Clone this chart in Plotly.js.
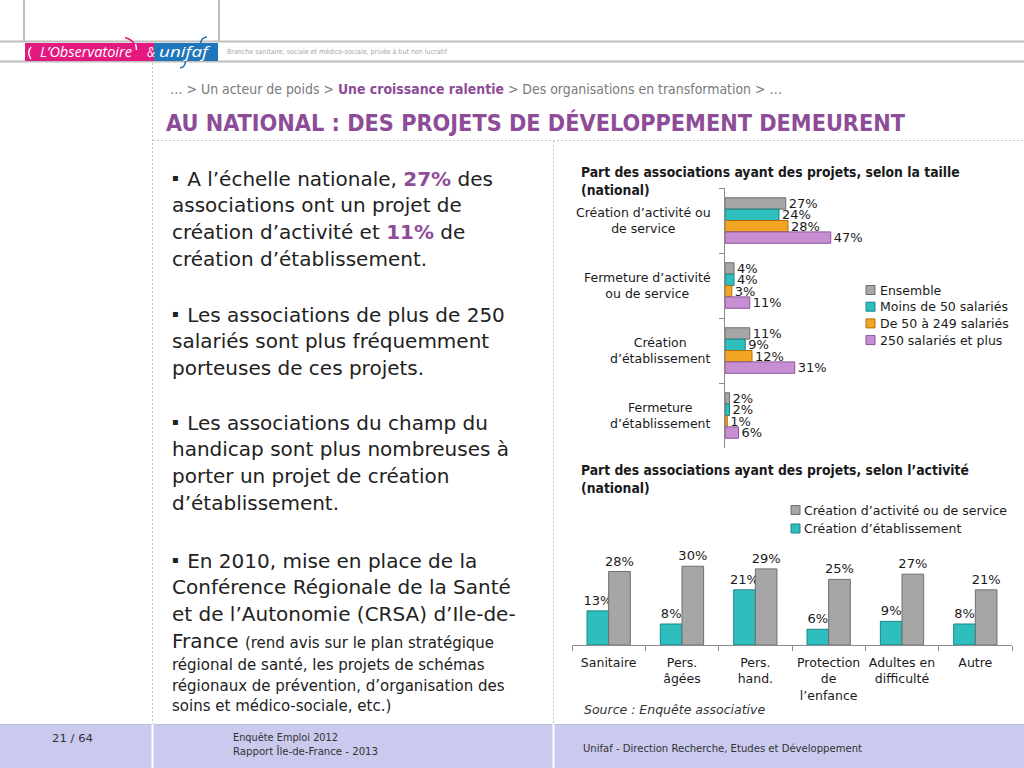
<!DOCTYPE html>
<html>
<head>
<meta charset="utf-8">
<script src="https://cdn.plot.ly/plotly-3.0.1.min.js"></script>
<style>
  html, body { margin:0; padding:0; background:#fff; }
  #slide { position:relative; width:1024px; height:768px; overflow:hidden; background:#fff; }
  .t { position:absolute; white-space:nowrap; display:inline-block; transform-origin:0 0; }
  .p { color:#8E4C98; font-weight:bold; }
  .b { font-size:10px; vertical-align:4.5px; margin-right:2px; }
  .chart { position:absolute; }
</style>
</head>
<body>
<div id="slide">
  <svg width="1024" height="768" style="position:absolute;left:0;top:0">
    <!-- header frame -->
    <line x1="0" y1="41.5" x2="1024" y2="41.5" stroke="#bdbdbd" stroke-width="2"/>
    <line x1="0" y1="61.5" x2="1024" y2="61.5" stroke="#bdbdbd" stroke-width="2"/>
    <line x1="24" y1="0" x2="24" y2="41" stroke="#bdbdbd" stroke-width="2"/>
    <line x1="219" y1="0" x2="219" y2="41" stroke="#bdbdbd" stroke-width="2"/>
    <rect x="25" y="43" width="129" height="18" fill="#E3197F"/>
    <rect x="154" y="43" width="64" height="18" fill="#1F76BA"/>
    <path d="M31,47 Q26.5,53 31,59" stroke="#fff" stroke-width="1.4" fill="none"/>
    <path d="M125,37.5 Q135,40 136.5,50" stroke="#E3197F" stroke-width="1.6" fill="none"/>
    <path d="M135.5,44 Q136.5,47 136.5,50" stroke="#fff" stroke-width="1.4" fill="none"/>
    <path d="M207,37 Q201,37.5 200.5,44" stroke="#1F76BA" stroke-width="1.6" fill="none"/>
    <path d="M185.5,61 Q185,67.5 180,68" stroke="#1F76BA" stroke-width="1.6" fill="none"/>
    <!-- dashed frames -->
    <line x1="152.5" y1="63" x2="152.5" y2="724" stroke="#c4c4c4" stroke-width="1" stroke-dasharray="2,2"/>
    <line x1="553.5" y1="141" x2="553.5" y2="724" stroke="#c4c4c4" stroke-width="1" stroke-dasharray="2,2"/>
    <line x1="153" y1="140.5" x2="1024" y2="140.5" stroke="#c4c4c4" stroke-width="1" stroke-dasharray="2,2"/>
    <!-- footer -->
    <rect x="0" y="724" width="1024" height="44" fill="#CAC9EE"/>
    <line x1="0" y1="724.5" x2="1024" y2="724.5" stroke="#BDBCE6" stroke-width="1"/>
    <line x1="152.5" y1="724" x2="152.5" y2="768" stroke="#fff" stroke-width="2"/>
    <line x1="553.5" y1="724" x2="553.5" y2="768" stroke="#fff" stroke-width="2"/>
  </svg>
  <div id="texts"></div>
  <div id="chart1" class="chart" style="left:560px;top:155px;width:464px;height:300px;"></div>
  <div id="chart2" class="chart" style="left:560px;top:455px;width:464px;height:267px;"></div>
</div>

<script>
// ---------------- DATA ----------------
// Chart 1: share of associations with projects, by size (national)
const sizeCategories = [
  "Création d’activité ou<br>de service",
  "Fermeture d’activité<br>ou de service",
  "Création<br>d’établissement",
  "Fermeture<br>d’établissement"
];
const sizeSeriesNames = ["Ensemble", "Moins de 50 salariés", "De 50 à 249 salariés", "250 salariés et plus"];
const ensemble   = [27, 4, 11, 2];
const moins50    = [24, 4, 9, 2];
const de50a249   = [28, 3, 12, 1];
const plus250    = [47, 11, 31, 6];

// Chart 2: share of associations with projects, by activity (national)
const activityCategories = [
  "Sanitaire",
  "Pers.<br>âgées",
  "Pers.<br>hand.",
  "Protection<br>de<br>l’enfance",
  "Adultes en<br>difficulté",
  "Autre"
];
const activitySeriesNames = ["Création d’établissement", "Création d’activité ou de service"];
const creationEtablissement = [13, 8, 21, 6, 9, 8];
const creationActivite      = [28, 30, 29, 25, 27, 21];

// ---------------- SLIDE TEXT ----------------
const texts = document.getElementById('texts');
function T(html, x, baseline, size, style, fitW) {
  const d = document.createElement('div');
  d.className = 't';
  d.innerHTML = html;
  d.style.left = x + 'px';
  d.style.fontSize = size + 'px';
  d.style.lineHeight = size + 'px';
  d.style.top = (baseline - 0.846 * size) + 'px';
  d.style.cssText += style || '';
  if (fitW) d.dataset.w = fitW;
  texts.appendChild(d);
  return d;
}
const COND = "font-family:'DejaVu Sans Condensed','DejaVu Sans',sans-serif;";
const SANS = "font-family:'DejaVu Sans',sans-serif;";

// header logo texts
T("L’Observatoire", 40, 57, 14, "font-family:'Open Sans',sans-serif;font-style:italic;color:#fff;", 92);
T("&amp;", 147, 57, 14, "font-family:'Open Sans',sans-serif;font-style:italic;color:#fff;", 8);
T("unifaf", 159, 57, 15, "font-family:'Open Sans',sans-serif;font-style:italic;color:#fff;", 49);
T("Branche sanitaire, sociale et médico-sociale, privée à but non lucratif", 227, 54.5, 7, COND + "color:#a5a5a5;", 220);

// breadcrumb + title
T("…  &gt; Un acteur de poids &gt; <b style='color:#8E4C98'>Une croissance ralentie</b> &gt; Des organisations en transformation &gt; …",
  170, 94.5, 13.5, COND + "color:#7a7a7a;", 612);
T("AU NATIONAL : DES PROJETS DE DÉVELOPPEMENT DEMEURENT", 166, 131, 23, COND + "font-weight:bold;color:#8E4C98;", 739);

// left body text
const BODY = SANS + "color:#222;";
const BUL = "<span class='b'>▪</span> ";
const bodyLines = [
  [BUL + "A l’échelle nationale, <span class='p'>27%</span> des", 185],
  ["associations ont un projet de", 212],
  ["création d’activité et <span class='p'>11%</span> de", 239],
  ["création d’établissement.", 266],
  [BUL + "Les associations de plus de 250", 321],
  ["salariés sont plus fréquemment", 348],
  ["porteuses de ces projets.", 375],
  [BUL + "Les associations du champ du", 429],
  ["handicap sont plus nombreuses à", 456],
  ["porter un projet de création", 483],
  ["d’établissement.", 510],
  [BUL + "En 2010, mise en place de la", 567],
  ["Conférence Régionale de la Santé", 594],
  ["et de l’Autonomie (CRSA) d’Ile-de-", 621],
  ["France <span style='font-size:15px'>(rend avis sur le plan stratégique</span>", 648]
];
bodyLines.forEach(l => T(l[0], 172, l[1], 20, BODY));
const smallLines = [
  ["régional de santé, les projets de schémas", 671],
  ["régionaux de prévention, d’organisation des", 692],
  ["soins et médico-sociale, etc.)", 712]
];
smallLines.forEach(l => T(l[0], 172, l[1], 15, BODY));

// footer
const FOOT = COND + "color:#333;";
T("21 / 64", 52, 742, 11, FOOT, 41);
T("Enquête Emploi 2012", 233, 741.5, 11, FOOT, 105);
T("Rapport Île-de-France - 2013", 233, 755.5, 11, FOOT, 145);
T("Unifaf - Direction Recherche, Etudes et Développement", 583, 752, 11, FOOT, 279);

function fitAll() {
  document.querySelectorAll('[data-w]').forEach(el => {
    el.style.transform = '';
    const w = el.getBoundingClientRect().width;
    if (w > 0) el.style.transform = 'scaleX(' + (+el.dataset.w / w) + ')';
  });
}
fitAll();
if (document.fonts && document.fonts.ready) document.fonts.ready.then(fitAll);

// ---------------- CHARTS ----------------
const TXT = '#1a1a1a';
const FONT = "DejaVu Sans, sans-serif";
const TFONT = "DejaVu Sans Condensed, DejaVu Sans, sans-serif";

function makeConv(box) {
  return {
    x: X => (X - box.left) / box.w,
    y: Y => 1 - (Y - box.top) / box.h
  };
}
function titleAnns(conv, lines, yFirst) {
  return lines.map((s, i) => ({
    xref: 'paper', yref: 'paper', x: conv.x(579), y: conv.y(yFirst + i * 18),
    xanchor: 'left', yanchor: 'middle', showarrow: false,
    text: '<b>' + s + '</b>',
    font: {family: TFONT, size: 13.8, color: TXT}
  }));
}

// ---- Chart 1 ----
const box1 = {left:560, top:155, w:464, h:300};
const c1 = makeConv(box1);
const sizeValues = [ensemble, moins50, de50a249, plus250];
const sizeFill = ['#A6A6A6', '#2FBEBE', '#F2A623', '#C88ED3'];
const sizeEdge = ['#6E6E6E', '#1A8585', '#B06E08', '#8A5597'];

const traces1 = sizeValues.map((vals, i) => ({
  type: 'bar', orientation: 'h',
  x: vals, y: sizeCategories, name: sizeSeriesNames[i],
  marker: {color: sizeFill[i], line: {color: sizeEdge[i], width: 1}},
  texttemplate: '%{x}%', textposition: 'outside', constraintext: 'none',
  textfont: {family: FONT, size: 13, color: TXT},
  cliponaxis: false, hoverinfo: 'skip'
}));

const ann1 = titleAnns(c1, ['Part des associations ayant des projets, selon la taille', '(national)'], 172);
sizeCategories.forEach(c => ann1.push({
  xref: 'paper', x: c1.x(713), xanchor: 'right',
  yref: 'y', y: c, yanchor: 'middle',
  text: c, align: 'center', showarrow: false,
  font: {family: FONT, size: 12.5, color: TXT}
}));
const shapes1 = [];
sizeSeriesNames.forEach((n, i) => {
  const cy = 290 + i * 16.7;
  shapes1.push({type: 'rect', xref: 'paper', yref: 'paper',
    x0: c1.x(866), x1: c1.x(875), y0: c1.y(cy + 4.5), y1: c1.y(cy - 4.5),
    fillcolor: sizeFill[i], line: {color: sizeEdge[i], width: 1}});
  ann1.push({xref: 'paper', yref: 'paper', x: c1.x(877.5), y: c1.y(cy),
    xanchor: 'left', yanchor: 'middle', text: n, showarrow: false,
    font: {family: FONT, size: 12.5, color: TXT}});
});

const layout1 = {
  width: box1.w, height: box1.h,
  margin: {l: 0, r: 0, t: 0, b: 0},
  paper_bgcolor: 'rgba(0,0,0,0)', plot_bgcolor: 'rgba(0,0,0,0)',
  barmode: 'group', bargap: 0.3, bargroupgap: 0,
  showlegend: false,
  font: {family: FONT, size: 12.5, color: TXT},
  xaxis: {domain: [c1.x(725), c1.x(950)], range: [0, 100], visible: false, fixedrange: true},
  yaxis: {domain: [c1.y(448), c1.y(188)], type: 'category', autorange: 'reversed',
    showline: true, linecolor: '#8c8c8c', linewidth: 1,
    ticks: 'outside', tickson: 'boundaries', ticklen: 5, tickcolor: '#8c8c8c',
    showticklabels: false, showgrid: false, zeroline: false, fixedrange: true},
  annotations: ann1,
  shapes: shapes1
};
Plotly.newPlot('chart1', traces1, layout1, {staticPlot: true, displayModeBar: false});

// ---- Chart 2 ----
const box2 = {left:560, top:455, w:464, h:267};
const c2 = makeConv(box2);
const actValues = [creationEtablissement, creationActivite];
const actFill = ['#2FBEBE', '#A6A6A6'];
const actEdge = ['#1A8585', '#6E6E6E'];

const traces2 = actValues.map((vals, i) => ({
  type: 'bar', x: activityCategories, y: vals, name: activitySeriesNames[i],
  marker: {color: actFill[i], line: {color: actEdge[i], width: 1}},
  texttemplate: '%{y}%', textposition: 'outside', constraintext: 'none',
  textfont: {family: FONT, size: 13, color: TXT},
  cliponaxis: false, hoverinfo: 'skip'
}));

const ann2 = titleAnns(c2, ['Part des associations ayant des projets, selon l’activité', '(national)'], 470);
const shapes2 = [];
// legend listed in reverse trace order (activity first)
[1, 0].forEach((idx, k) => {
  const cy = 510 + k * 18.5;
  shapes2.push({type: 'rect', xref: 'paper', yref: 'paper',
    x0: c2.x(791), x1: c2.x(800), y0: c2.y(cy + 4.5), y1: c2.y(cy - 4.5),
    fillcolor: actFill[idx], line: {color: actEdge[idx], width: 1}});
  ann2.push({xref: 'paper', yref: 'paper', x: c2.x(802), y: c2.y(cy),
    xanchor: 'left', yanchor: 'middle', text: activitySeriesNames[idx], showarrow: false,
    font: {family: FONT, size: 12.5, color: TXT}});
});
ann2.push({xref: 'paper', yref: 'paper', x: c2.x(582), y: c2.y(709),
  xanchor: 'left', yanchor: 'middle', text: '<i>Source : Enquête associative</i>', showarrow: false,
  font: {family: FONT, size: 12.5, color: '#333'}});

const layout2 = {
  width: box2.w, height: box2.h,
  margin: {l: 0, r: 0, t: 0, b: 0},
  paper_bgcolor: 'rgba(0,0,0,0)', plot_bgcolor: 'rgba(0,0,0,0)',
  barmode: 'group', bargap: 0.41, bargroupgap: 0,
  showlegend: false,
  font: {family: FONT, size: 12.5, color: TXT},
  xaxis: {domain: [c2.x(572), c2.x(1012)], type: 'category',
    showline: true, linecolor: '#8c8c8c', linewidth: 1,
    ticks: 'outside', tickson: 'boundaries', ticklen: 5, tickcolor: '#8c8c8c',
    tickangle: 0, automargin: false, ticklabelstandoff: 6,
    tickfont: {family: FONT, size: 12.5, color: TXT},
    showgrid: false, zeroline: false, fixedrange: true},
  yaxis: {domain: [c2.y(645), c2.y(540)], range: [0, 40], visible: false, fixedrange: true},
  annotations: ann2,
  shapes: shapes2
};
Plotly.newPlot('chart2', traces2, layout2, {staticPlot: true, displayModeBar: false});
</script>
</body>
</html>
